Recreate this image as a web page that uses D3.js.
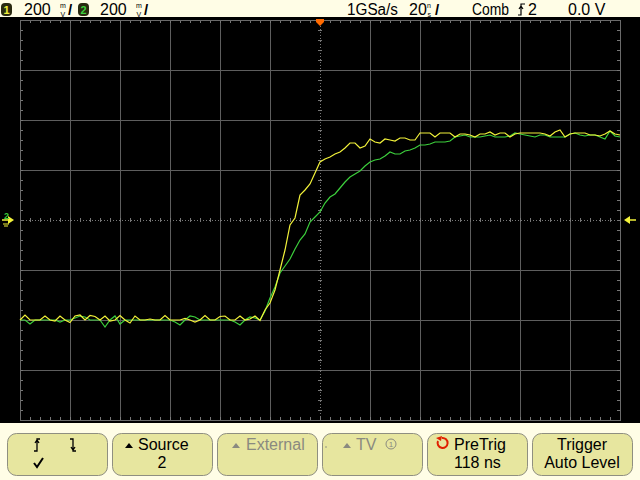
<!DOCTYPE html>
<html><head><meta charset="utf-8">
<script src="https://cdn.jsdelivr.net/npm/d3@7"></script>
<style>
html,body{margin:0;padding:0;background:#fffde6;}
svg{display:block;font-family:"Liberation Sans",Arial,sans-serif;}
</style></head>
<body>
<svg id="c" width="640" height="480"></svg>
<script>
// ---- data ----
// sample times (ns, relative to trigger), 2 ns apart
const timesNs = d3.range(-120, 121, 2);
// channel 1 (yellow) in mV
const ch1mV = [
-400,-380,-400,-400,-400,-384,-400,-404,-384,-400,
-410,-384,-380,-400,-382,-386,-400,-384,-404,-400,
-382,-400,-412,-384,-400,-400,-396,-400,-400,-382,
-400,-400,-400,-394,-400,-408,-400,-382,-400,-400,
-386,-384,-400,-400,-384,-400,-396,-384,-402,-360,
-332,-280,-200,-120,-20,8,100,120,144,188,
232,244,252,264,272,288,308,308,288,296,
324,312,308,324,320,316,328,328,320,320,
348,348,348,332,348,348,348,332,344,344,
340,332,344,344,352,340,348,348,332,344,
348,348,348,348,348,344,336,352,360,332,
344,348,348,348,340,340,336,344,356,344,
340];
// channel 2 (green) in mV
const ch2mV = [
-400,-400,-416,-400,-400,-400,-400,-400,-408,-400,
-400,-392,-384,-388,-400,-400,-400,-428,-400,-384,
-416,-400,-400,-400,-400,-400,-400,-400,-400,-400,
-400,-408,-420,-400,-384,-388,-400,-400,-400,-400,
-400,-400,-400,-408,-420,-400,-388,-392,-400,-364,
-312,-268,-212,-184,-156,-116,-80,-56,-8,12,
32,68,92,104,128,152,172,184,196,216,
232,240,244,256,272,264,264,276,280,288,
300,300,304,312,312,312,316,332,336,340,
332,332,332,336,340,332,332,332,336,348,
344,340,336,332,340,340,332,332,332,332,
344,348,340,336,340,340,332,324,356,336,
332];
const topLabels = {ch1: "200", ch2: "200", rate: "1GSa/s", tdiv: "20", mode: "Comb", src: "2", level: "0.0 V"};
const buttonTop = ["", "Source", "External", "TV", "PreTrig", "Trigger"];
const buttonBottom = ["", "2", "", "", "118 ns", "Auto Level"];

// ---- drawing ----
const svg = d3.select("#c");
const X0 = 20, X1 = 620, Y0 = 20, Y1 = 420;
const x = d3.scaleLinear().domain([-120, 120]).range([X0, X1]);
const y = d3.scaleLinear().domain([-800, 800]).range([Y1, Y0]);

// backgrounds
svg.append("rect").attr("x",0).attr("y",0).attr("width",640).attr("height",480).attr("fill","#fffde6");
svg.append("rect").attr("x",0).attr("y",17).attr("width",640).attr("height",406).attr("fill","#000");

const grid = svg.append("g");
const gridCol = "#5e5e5e";
// major grid
d3.range(-120, 121, 20).forEach(t => {
  if (t === 0) return;
  grid.append("line").attr("x1", x(t)).attr("x2", x(t)).attr("y1", Y0).attr("y2", Y1)
    .attr("stroke", gridCol).attr("stroke-width", 1).attr("shape-rendering","crispEdges");
});
d3.range(-800, 801, 200).forEach(v => {
  if (v === 0) return;
  grid.append("line").attr("x1", X0).attr("x2", X1).attr("y1", y(v)).attr("y2", y(v))
    .attr("stroke", gridCol).attr("stroke-width", 1).attr("shape-rendering","crispEdges");
});
// center dotted axes
grid.append("line").attr("x1", x(0)).attr("x2", x(0)).attr("y1", Y0).attr("y2", Y1)
  .attr("stroke", "#777").attr("stroke-dasharray","1,2").attr("shape-rendering","crispEdges");
grid.append("line").attr("x1", X0).attr("x2", X1).attr("y1", y(0)).attr("y2", y(0))
  .attr("stroke", "#777").attr("stroke-dasharray","1,2").attr("shape-rendering","crispEdges");
// minor ticks
const tc = "#777";
d3.range(-120, 121, 4).forEach(t => {
  const px = Math.round(x(t)) + 0.5;
  grid.append("line").attr("x1",px).attr("x2",px).attr("y1",Y0).attr("y2",Y0+3).attr("stroke",tc);
  grid.append("line").attr("x1",px).attr("x2",px).attr("y1",Y1-3).attr("y2",Y1).attr("stroke",tc);
  grid.append("line").attr("x1",px).attr("x2",px).attr("y1",y(0)-2).attr("y2",y(0)+2).attr("stroke",tc);
});
d3.range(-800, 801, 40).forEach(v => {
  const py = Math.round(y(v)) + 0.5;
  grid.append("line").attr("x1",X0).attr("x2",X0+3).attr("y1",py).attr("y2",py).attr("stroke",tc);
  grid.append("line").attr("x1",X1-3).attr("x2",X1).attr("y1",py).attr("y2",py).attr("stroke",tc);
  grid.append("line").attr("x1",x(0)-2).attr("x2",x(0)+2).attr("y1",py).attr("y2",py).attr("stroke",tc);
});
// frame
grid.append("rect").attr("x",X0+0.5).attr("y",Y0+0.5).attr("width",X1-X0).attr("height",Y1-Y0)
  .attr("fill","none").attr("stroke","#6a6a6a");

// traces
const line = d3.line().x((d,i) => x(timesNs[i])).y(d => y(d));
svg.append("path").datum(ch2mV).attr("d", line).attr("fill","none").attr("stroke","#3ccf3c").attr("stroke-width",1.2);
svg.append("path").datum(ch1mV).attr("d", line).attr("fill","none").attr("stroke","#f2f23a").attr("stroke-width",1.2);

// trigger position marker (top)
svg.append("path").attr("d", `M${x(0)-4},19 h8 v3 l-4,4 l-4,-4 z`).attr("fill","#ff6a00");
// ground markers (left)
svg.append("path").attr("d", `M8,${y(0)-4} L14,${y(0)} L8,${y(0)+4} z`).attr("fill","#f2f23a");
svg.append("line").attr("x1",2).attr("x2",10).attr("y1",y(0)).attr("y2",y(0)).attr("stroke","#f2f23a").attr("stroke-width",1.5);
svg.append("text").attr("x",4).attr("y",y(0)-1).attr("font-size",9).attr("font-weight","bold").attr("fill","#3ccf3c").text("2");
svg.append("line").attr("x1",3).attr("x2",9).attr("y1",y(0)+4).attr("y2",y(0)+4).attr("stroke","#f2f23a");
svg.append("line").attr("x1",4).attr("x2",8).attr("y1",y(0)+6).attr("y2",y(0)+6).attr("stroke","#f2f23a");
// trigger level marker (right)
svg.append("path").attr("d", `M624,${y(0)} L630,${y(0)-4} L630,${y(0)+4} z`).attr("fill","#f2f23a");
svg.append("line").attr("x1",628).attr("x2",636).attr("y1",y(0)).attr("y2",y(0)).attr("stroke","#f2f23a").attr("stroke-width",1.5);

// ---- top status bar ----
const bar = svg.append("g").attr("font-size",16).attr("fill","#000");
function badge(bx, txt, col) {
  bar.append("rect").attr("x",bx).attr("y",3).attr("width",11).attr("height",13).attr("rx",4).attr("fill","#2a2a10");
  bar.append("text").attr("x",bx+5.5).attr("y",14).attr("text-anchor","middle").attr("font-size",11).attr("font-weight","bold").attr("fill",col).text(txt);
}
function frac(fx, a, b) {
  bar.append("text").attr("x",fx).attr("y",8).attr("font-size",7).text(a);
  bar.append("text").attr("x",fx+0.5).attr("y",16.5).attr("font-size",7).text(b);
  bar.append("text").attr("x",fx+8).attr("y",15).attr("font-size",15).attr("font-weight","bold").text("/");
}
badge(1, "1", "#f2f23a");
bar.append("text").attr("x",24).attr("y",15).text(topLabels.ch1);
frac(60, "m", "V");
badge(78, "2", "#3ccf3c");
bar.append("text").attr("x",100).attr("y",15).text(topLabels.ch2);
frac(136, "m", "V");
bar.append("text").attr("x",347).attr("y",15).attr("textLength",51).attr("lengthAdjust","spacingAndGlyphs").text(topLabels.rate);
bar.append("text").attr("x",409).attr("y",15).text(topLabels.tdiv);
frac(427, "n", "s");
bar.append("text").attr("x",472).attr("y",15).attr("textLength",37).attr("lengthAdjust","spacingAndGlyphs").text(topLabels.mode);
// rising edge symbol
bar.append("path").attr("d","M518,15 h3 v-11 h4 M519,9 l2,-3 l2,3").attr("fill","none").attr("stroke","#000").attr("stroke-width",1.2);
bar.append("text").attr("x",528).attr("y",15).text(topLabels.src);
bar.append("text").attr("x",568).attr("y",15).text(topLabels.level);

// ---- soft-key buttons ----
const bg = svg.append("g").attr("font-size",16);
const bx0 = 7, bw = 100, bstep = 105, by = 433, bh = 42;
buttonTop.forEach((t, i) => {
  const bx = bx0 + i * bstep;
  bg.append("rect").attr("x", bx+0.5).attr("y", by+0.5).attr("width", bw).attr("height", bh).attr("rx", 9)
    .attr("fill", "#e7e69f").attr("stroke", "#8f8f80");
});
// button 1: edge symbols + check
bg.append("path").attr("d","M34,451 h3 v-12 h3 M35,443 l2,-3 l2,3").attr("fill","none").attr("stroke","#000").attr("stroke-width",1.3);
bg.append("path").attr("d","M70,439 h3 v12 h3 M71,447 l2,3 l2,-3").attr("fill","none").attr("stroke","#000").attr("stroke-width",1.3);
bg.append("path").attr("d","M34,463 l3,4 l6,-9").attr("fill","none").attr("stroke","#000").attr("stroke-width",2);
// button 2
bg.append("path").attr("d","M125,448 l4,-5 l4,5 z").attr("fill","#000");
bg.append("text").attr("x",138).attr("y",450).attr("fill","#000").text(buttonTop[1]);
bg.append("text").attr("x",162).attr("y",468).attr("text-anchor","middle").attr("fill","#000").text(buttonBottom[1]);
// button 3
bg.append("path").attr("d","M232,448 l4,-5 l4,5 z").attr("fill","#8a8a80");
bg.append("text").attr("x",246).attr("y",450).attr("fill","#8a8a80").text(buttonTop[2]);
// button 4
bg.append("circle").attr("cx",326).attr("cy",447).attr("r",0.8).attr("fill","#8a8a80");
bg.append("path").attr("d","M343,448 l4,-5 l4,5 z").attr("fill","#8a8a80");
bg.append("text").attr("x",356).attr("y",450).attr("fill","#8a8a80").text(buttonTop[3]);
bg.append("circle").attr("cx",391).attr("cy",444).attr("r",5).attr("fill","none").attr("stroke","#8a8a80");
bg.append("text").attr("x",391).attr("y",447).attr("text-anchor","middle").attr("font-size",8).attr("fill","#8a8a80").text("1");
// button 5
bg.append("path").attr("d","M438,441 a5,5 0 1 0 4,-3").attr("fill","none").attr("stroke","#e02000").attr("stroke-width",2);
bg.append("path").attr("d","M436,438 l6,-2 l-1,5 z").attr("fill","#e02000");
bg.append("text").attr("x",454).attr("y",450).attr("fill","#000").text(buttonTop[4]);
bg.append("text").attr("x",454).attr("y",468).attr("fill","#000").text(buttonBottom[4]);
// button 6
bg.append("text").attr("x",582).attr("y",450).attr("text-anchor","middle").attr("fill","#000").text(buttonTop[5]);
bg.append("text").attr("x",582).attr("y",468).attr("text-anchor","middle").attr("fill","#000").text(buttonBottom[5]);
</script>
</body></html>
